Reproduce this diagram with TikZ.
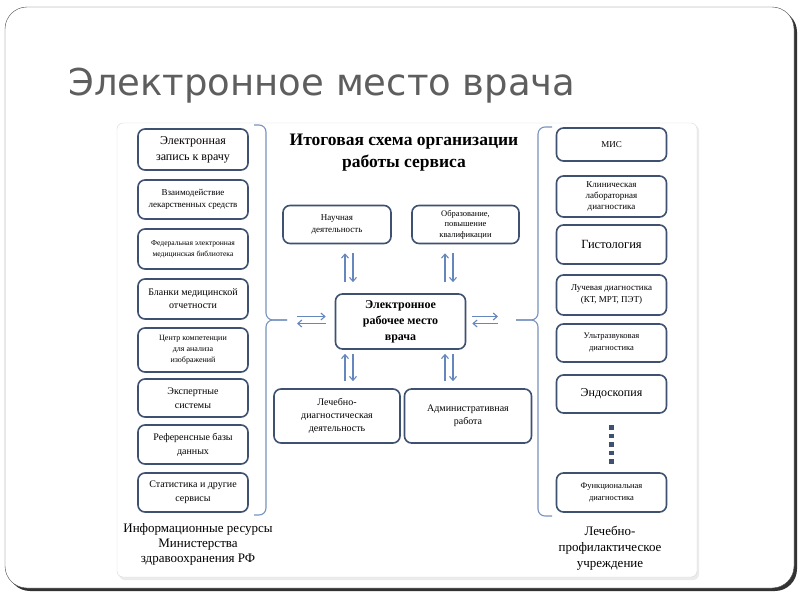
\documentclass[tikz,border=0pt]{standalone}
\usepackage{fontspec}
\setmainfont{Liberation Serif}
\newfontfamily\slidefont{DejaVu Sans}
\usetikzlibrary{arrows.meta,positioning}
\definecolor{boxline}{HTML}{3E5170}
\definecolor{arrblue}{HTML}{6587BD}
\definecolor{brcblue}{HTML}{7893C0}
\definecolor{titlegray}{HTML}{5E5E5E}
\newcommand{\fsz}[2]{\fontsize{#1}{#2}\selectfont}
\tikzset{
  box/.style={draw=boxline, line width=1.6pt, rounded corners=7pt, fill=white, align=center, inner sep=2pt},
  lbox/.style={box, minimum width=110pt},
  arr/.style={draw=arrblue, line width=1.1pt, -{Straight Barb[length=4pt,width=7pt]}},
  brc/.style={draw=brcblue, line width=1.1pt, rounded corners=7pt},
}
\begin{document}
\begin{tikzpicture}[x=1pt,y=-1pt]
    \useasboundingbox (0,0) rectangle (800,600);
    \fill[black!80, rounded corners=22pt] (8,10) rectangle (797,591);
    \draw[draw=black!70, fill=white, rounded corners=22pt] (5,7) rectangle (794,588);
    \node[anchor=base west, text=titlegray, font=\slidefont\fsz{37}{40}, inner sep=0pt] (slide) at (68,95) {Электронное место врача};
    \fill[black!8, rounded corners=6pt] (119,125) rectangle (699,580);
    \draw[draw=black!15, fill=white, rounded corners=6pt] (117,123) rectangle (697,577);
    \node[align=center, font=\bfseries\fsz{17.5}{22}] (head) at (404,153) {Итоговая схема организации\\работы сервиса};

    \node[lbox, minimum height=41pt, font=\fsz{12}{16}] (l1) at (193,149.5) {Электронная\\запись к врачу};
    \node[lbox, minimum height=39pt, font=\fsz{9}{12}] (l2) at (193,199.5) {Взаимодействие\\лекарственных средств};
    \node[lbox, minimum height=40pt, font=\fsz{7.6}{11}] (l3) at (193,249) {Федеральная электронная\\медицинская библиотека};
    \node[lbox, minimum height=40pt, font=\fsz{10}{13}] (l4) at (193,299) {Бланки медицинской\\отчетности};
    \node[lbox, minimum height=44pt, font=\fsz{8}{11}] (l5) at (193,350) {Центр компетенции\\для анализа\\изображений};
    \node[lbox, minimum height=38pt, font=\fsz{10}{14}] (l6) at (193,398) {Экспертные\\системы};
    \node[lbox, minimum height=39pt, font=\fsz{10}{14}] (l7) at (193,444.5) {Референсные базы\\данных};
    \node[lbox, minimum height=39pt, font=\fsz{10}{14}] (l8) at (193,492.5) {Статистика и другие\\сервисы};
    \node[align=center, font=\fsz{13}{15}] (lres) at (198,544) {Информационные ресурсы\\Министерства\\здравоохранения РФ};

    \node[lbox, minimum height=33pt, font=\fsz{9}{12}] (r1) at (611.5,144.5) {МИС};
    \node[lbox, minimum height=41pt, font=\fsz{9}{11}] (r2) at (611.5,196.5) {Клиническая\\лабораторная\\диагностика};
    \node[lbox, minimum height=39pt, font=\fsz{12.5}{15}] (r3) at (611.5,244.5) {Гистология};
    \node[lbox, minimum height=40pt, font=\fsz{9}{12}] (r4) at (611.5,295) {Лучевая диагностика\\(КТ, МРТ, ПЭТ)};
    \node[lbox, minimum height=38pt, font=\fsz{8.5}{12}] (r5) at (611.5,343) {Ультразвуковая\\диагностика};
    \node[lbox, minimum height=38pt, font=\fsz{12}{15}] (r6) at (611.5,394) {Эндоскопия};
    \node[lbox, minimum height=39pt, font=\fsz{8.5}{12}] (r7) at (611.5,492.5) {Функциональная\\диагностика};
    \node[align=center, font=\fsz{13}{16}] (rres) at (610,548) {Лечебно-\\профилактическое\\учреждение};
    \draw[draw=boxline, line width=4.5pt, dash pattern=on 4.5pt off 4pt] (r6.south |- 0,425) -- (r6.south |- 0,466);

    \node[box, minimum width=130pt, minimum height=55pt, font=\bfseries\fsz{12}{16}] (ewp) at (400.5,321.5) {Электронное\\рабочее место\\врача};
    \node[box, minimum width=108pt, minimum height=38pt, font=\fsz{9}{12}] (sci) at (337,224.5) {Научная\\деятельность};
    \node[box, minimum width=107pt, minimum height=38pt, font=\fsz{8.5}{10.5}] (edu) at (465.5,224.5) {Образование,\\повышение\\квалификации};
    \node[box, minimum width=126pt, minimum height=54pt, font=\fsz{10}{13}] (med) at (337,416) {Лечебно-\\диагностическая\\деятельность};
    \node[box, minimum width=127pt, minimum height=54pt, font=\fsz{10}{13}] (adm) at (468,416) {Административная\\работа};

    \coordinate (ltip) at (287,320);
    \coordinate (rtip) at (516,320);
    \draw[brc] (254,125) -- (266,125) -- (266,320) -- (ltip);
    \draw[brc] (254,515) -- (266,515) -- (266,320) -- (ltip);
    \draw[brc] (552,127) -- (538,127) -- (538,320) -- (rtip);
    \draw[brc] (552,516) -- (538,516) -- (538,320) -- (rtip);

    \coordinate (ua) at (345,0);
    \coordinate (da) at (353,0);
    \coordinate (ub) at (445,0);
    \coordinate (db) at (453,0);
    \draw[arr, shorten <=11pt, shorten >=9pt] (ewp.north -| ua) -- (sci.south -| ua);
    \draw[arr, shorten <=9pt, shorten >=11pt] (sci.south -| da) -- (ewp.north -| da);
    \draw[arr, shorten <=11pt, shorten >=9pt] (ewp.north -| ub) -- (edu.south -| ub);
    \draw[arr, shorten <=9pt, shorten >=11pt] (edu.south -| db) -- (ewp.north -| db);
    \draw[arr, shorten <=7pt, shorten >=4pt] (med.north -| ua) -- (ewp.south -| ua);
    \draw[arr, shorten <=4pt, shorten >=7pt] (ewp.south -| da) -- (med.north -| da);
    \draw[arr, shorten <=7pt, shorten >=4pt] (adm.north -| ub) -- (ewp.south -| ub);
    \draw[arr, shorten <=4pt, shorten >=7pt] (ewp.south -| db) -- (adm.north -| db);
    \draw[arr, shorten <=10pt, shorten >=9pt] ([yshift=3.5pt]ltip) -- ([yshift=3.5pt]ltip -| ewp.west);
    \draw[arr, shorten <=9pt, shorten >=10pt] ([yshift=-3.5pt]ltip -| ewp.west) -- ([yshift=-3.5pt]ltip);
    \draw[arr, shorten <=6pt, shorten >=18pt] ([yshift=3.5pt]rtip -| ewp.east) -- ([yshift=3.5pt]rtip);
    \draw[arr, shorten <=18pt, shorten >=6pt] ([yshift=-3.5pt]rtip) -- ([yshift=-3.5pt]rtip -| ewp.east);
\end{tikzpicture}
\end{document}
